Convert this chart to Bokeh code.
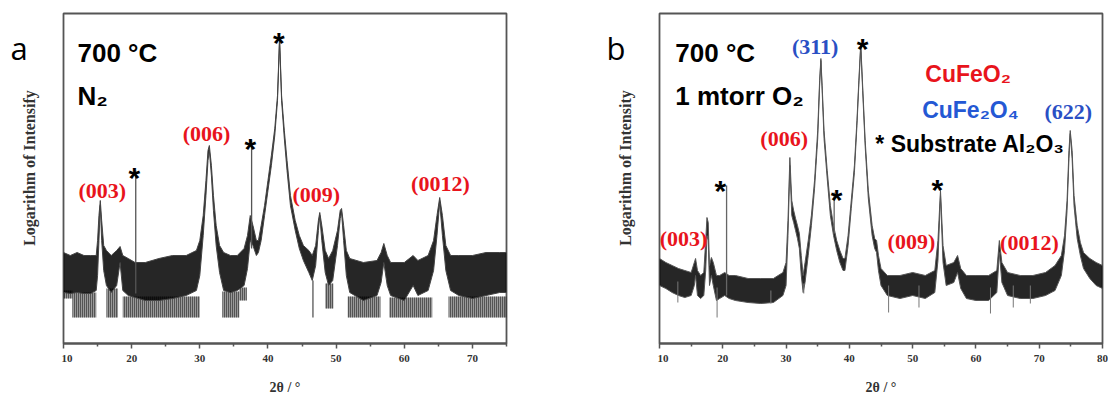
import math
from bokeh.plotting import figure
from bokeh.layouts import row
from bokeh.models import FixedTicker, ColumnDataSource, Range1d
from bokeh.core.properties import value
from bokeh.embed import file_html
from bokeh.resources import INLINE

# ---------------- panel a : 700 C, N2 ----------------
a_tt = [10.0, 11.0, 12.0, 13.0, 14.0, 14.8, 15.0, 15.2, 15.4, 15.6, 15.9, 16.3, 17.0, 17.8, 18.3, 18.7,
        19.5, 20.5, 22.0, 24.0, 26.0, 28.0, 29.5, 30.0, 30.5, 30.9, 31.2, 31.4, 31.7, 32.0, 32.4, 32.9,
        33.5, 34.5, 35.5, 36.5, 37.0, 37.4, 37.8, 38.3, 38.6, 39.0, 39.5, 40.0, 40.5, 41.0, 41.4, 41.7,
        42.0, 42.4, 42.8, 43.3, 44.0, 44.6, 45.2, 46.0, 46.5, 47.0, 47.4, 47.6, 47.9, 48.4, 48.9, 49.5,
        50.2, 50.6, 50.8, 51.1, 51.5, 52.0, 54.0, 56.0, 56.6, 57.0, 57.5, 58.0, 60.0, 61.3, 62.0, 63.5,
        64.3, 64.8, 65.2, 65.6, 66.1, 66.8, 68.0, 70.0, 72.0, 74.0, 75.0]
a_top = [91, 88, 91, 88, 88, 88, 103, 128, 143, 123, 98, 93, 88, 93, 97, 88,
         85, 81, 81, 85, 88, 88, 93, 103, 128, 163, 193, 198, 178, 148, 118, 98,
         91, 88, 88, 95, 108, 128, 118, 103, 103, 118, 138, 163, 188, 215, 248, 306,
         248, 213, 183, 148, 123, 108, 98, 93, 88, 98, 123, 131, 118, 93, 85, 93,
         113, 133, 135, 118, 93, 85, 81, 83, 91, 100, 88, 81, 81, 88, 83, 88,
         103, 128, 146, 128, 98, 88, 88, 88, 91, 91, 91]
a_bot = [51, 50, 51, 50, 50, 53, 68, 103, 138, 103, 73, 58, 51, 58, 81, 53,
         48, 46, 43, 43, 45, 48, 53, 68, 108, 148, 183, 193, 168, 133, 98, 71,
         53, 51, 53, 58, 75, 103, 98, 88, 91, 103, 128, 153, 178, 208, 243, 303,
         243, 205, 173, 138, 113, 95, 83, 71, 63, 78, 113, 128, 103, 71, 58, 63,
         98, 125, 131, 103, 68, 51, 43, 48, 61, 81, 58, 48, 43, 58, 48, 53,
         73, 108, 141, 108, 73, 53, 48, 45, 48, 51, 51]
# dropout comb of the noisy baseline: start, end, floor, band bottom
a_comb_x0 = [10.0, 11.3, 16.3, 18.7, 33.3, 35.8, 48.4, 51.7, 57.8, 66.5]
a_comb_x1 = [11.3, 14.8, 18.0, 30.0, 35.8, 36.9, 49.6, 56.5, 64.1, 75.0]
a_comb_lo = [45, 26, 26, 26, 26, 43, 35, 26, 26, 26]
a_comb_hi = [53, 51, 55, 47, 52, 56, 60, 47, 46, 47]
# sharp substrate lines and single dropouts
a_line_tt = [20.6, 37.6, 46.6]
a_line_lo = [50, 95, 26]
a_line_hi = [173, 203, 63]
# annotations
a_hkl = ["(003)", "(006)", "(009)", "(0012)"]
a_hkl_tt = [15.7, 31.0, 47.1, 65.3]
a_hkl_v = [153, 210, 149, 160]
a_star_tt = [20.4, 37.4, 41.6]
a_star_v = [166, 195, 301]

# ---------------- panel b : 700 C, 1 mtorr O2 ----------------
b_tt = [10.0, 11.0, 12.0, 13.0, 14.0, 15.0, 15.5, 15.7, 16.0, 16.5, 17.0, 17.3, 17.5, 17.7, 17.9, 18.2,
        18.5, 19.0, 19.5, 20.3, 21.0, 22.0, 24.0, 26.0, 28.0, 29.5, 30.0, 30.3, 30.6, 30.9, 31.2, 31.5,
        31.8, 32.1, 32.4, 32.7, 33.0, 33.5, 34.0, 34.5, 35.0, 35.3, 35.5, 35.7, 36.0, 36.5, 37.0, 37.5,
        38.0, 38.5, 39.0, 39.3, 39.8, 40.3, 40.8, 41.2, 41.5, 41.8, 42.1, 42.5, 43.0, 43.6, 44.0, 44.3,
        44.6, 45.0, 46.0, 48.0, 50.0, 52.0, 53.5, 54.0, 54.4, 54.8, 55.3, 56.5, 57.1, 57.6, 58.5, 60.0,
        62.0, 63.3, 63.7, 64.1, 65.0, 67.0, 69.0, 71.0, 72.5, 73.5, 74.0, 74.4, 74.7, 74.9, 75.2, 75.5,
        76.0, 76.5, 77.0, 78.0, 79.0, 80.0]
b_top = [85, 81, 78, 75, 73, 71, 81, 85, 73, 68, 71, 103, 126, 121, 78, 86,
         81, 68, 68, 71, 68, 68, 65, 65, 65, 71, 81, 123, 186, 143, 133, 125,
         118, 110, 88, 68, 81, 103, 128, 163, 213, 263, 285, 258, 213, 173, 138, 118,
         103, 93, 85, 85, 108, 143, 178, 223, 263, 300, 258, 203, 153, 118, 105, 103,
         88, 75, 68, 68, 71, 68, 73, 103, 153, 98, 78, 81, 88, 75, 68, 68,
         68, 73, 103, 81, 71, 68, 68, 71, 78, 88, 108, 143, 193, 213, 193, 148,
         118, 101, 91, 85, 81, 78]
b_bot = [58, 55, 51, 48, 46, 48, 58, 68, 48, 45, 48, 73, 108, 103, 58, 68,
         58, 43, 45, 48, 45, 43, 41, 40, 41, 48, 58, 108, 178, 128, 121, 113,
         105, 95, 68, 51, 61, 88, 118, 155, 205, 258, 283, 253, 205, 165, 128, 108,
         93, 81, 73, 73, 98, 135, 171, 218, 259, 297, 253, 197, 145, 108, 95, 91,
         73, 58, 48, 45, 48, 45, 51, 83, 148, 81, 58, 61, 71, 55, 45, 43,
         43, 51, 91, 61, 48, 45, 45, 48, 53, 68, 93, 133, 185, 210, 185, 138,
         105, 88, 75, 65, 58, 55]
b_line_tt = [20.6, 37.6]
b_line_lo = [48, 110]
b_line_hi = [158, 151]
b_drop_tt = [12.9, 19.1, 27.6, 32.8, 46.2, 51.0, 62.3, 65.9, 68.6]
b_drop_lo = [41, 26, 40, 50, 31, 36, 30, 36, 40]
b_drop_hi = [62, 56, 53, 60, 58, 58, 56, 58, 58]
b_hkl = ["(003)", "(006)", "(311)", "(009)", "(0012)", "(622)"]
b_hkl_tt = [13.8, 29.7, 34.6, 49.8, 68.45, 74.6]
b_hkl_v = [105, 205, 297, 102, 101, 232]
b_hkl_color = ["#e8141c", "#e8141c", "#2a4fc4", "#e8141c", "#e8141c", "#2a4fc4"]
b_star_tt = [19.6, 38.0, 42.1, 53.9]
b_star_v = [153, 144, 295, 154]

RED = "#e8141c"
BLUE = "#2458d4"
AXC = "#555555"
H = 396


def side_fig(letter, ylabel):
    # narrow strip left of each panel: panel letter and the rotated y-axis title
    s = figure(width=61, height=H, x_range=Range1d(0, 61), y_range=Range1d(0, H),
               output_backend="svg", toolbar_location=None, min_border=0)
    s.axis.visible = False
    s.grid.visible = False
    s.outline_line_color = None
    s.text(x=[10], y=[H - 42], text=[letter], text_font=value("Open Sans"), text_font_size="31px",
           text_color="black", text_align="left", text_baseline="alphabetic")
    s.text(x=[29], y=[H - 186], text=[ylabel], angle=math.pi / 2, text_font=value("Liberation Serif"),
           text_font_style="bold", text_font_size="16px", text_color="#333333",
           text_align="center", text_baseline="middle")
    return s


def make_fig(frame_w, br, x0, x1, major, minor):
    p = figure(frame_width=frame_w, frame_height=330, x_range=Range1d(x0, x1),
               y_range=Range1d(0, 330), output_backend="svg", toolbar_location=None,
               min_border_left=2, min_border_right=br, min_border_top=13, min_border_bottom=53)
    p.grid.visible = False
    p.background_fill_color = "white"
    p.border_fill_color = "white"
    p.outline_line_color = AXC
    p.outline_line_width = 1.8
    p.yaxis.visible = False
    xa = p.xaxis[0]
    xa.ticker = FixedTicker(ticks=major, minor_ticks=minor)
    xa.axis_line_color = AXC
    xa.axis_line_width = 2
    xa.major_tick_line_color = AXC
    xa.minor_tick_line_color = AXC
    xa.major_tick_line_width = 1.5
    xa.minor_tick_line_width = 1.5
    xa.major_tick_in = 0
    xa.major_tick_out = 5
    xa.minor_tick_in = 0
    xa.minor_tick_out = 3
    xa.major_label_standoff = 6
    xa.major_label_text_font = "Liberation Serif"
    xa.major_label_text_font_style = "bold"
    xa.major_label_text_font_size = "11px"
    xa.major_label_text_color = "#333333"
    xa.axis_label = "2θ / °"
    xa.axis_label_text_font = "Liberation Serif"
    xa.axis_label_text_font_style = "bold"
    xa.axis_label_text_font_size = "14px"
    xa.axis_label_text_color = "#333333"
    xa.axis_label_standoff = 15
    return p


def big_text(p, x, y, t, color="black", size="26px", align="left"):
    p.text(x=[x], y=[y], text=[t], text_font=value("Liberation Sans"), text_font_style="bold",
           text_font_size=size, text_color=color, text_align=align, text_baseline="alphabetic")


# ---- figure a
sa = side_fig("a", "Logarithm of Intensify")
pa = make_fig(443, 90, 10, 75, [10, 20, 30, 40, 50, 60, 70], [15, 25, 35, 45, 55, 65, 75])
pa.quad(left=a_comb_x0, right=a_comb_x1, bottom=a_comb_lo, top=a_comb_hi, fill_color="black",
        fill_alpha=0.4, line_alpha=0, hatch_pattern="|", hatch_scale=2, hatch_weight=1,
        hatch_color="black", hatch_alpha=0.9)
pa.varea(x=a_tt, y1=a_bot, y2=a_top, fill_color="black", fill_alpha=0.85)
pa.line(a_tt, a_top, line_color="#444444", line_width=1)
pa.line(a_tt, a_bot, line_color="#444444", line_width=1)
pa.segment(x0=a_line_tt, y0=a_line_lo, x1=a_line_tt, y1=a_line_hi, line_color="#555555", line_width=1.3)
pa.text(x=a_hkl_tt, y=a_hkl_v, text=a_hkl, text_font=value("Liberation Serif"), text_font_style="bold",
        text_font_size="22px", text_color=RED, text_align="center", text_baseline="middle")
pa.text(x=a_star_tt, y=a_star_v, text=["*"] * len(a_star_tt), text_font=value("Liberation Sans"),
        text_font_style="bold", text_font_size="30px", text_color="black", text_align="center",
        text_baseline="alphabetic")
big_text(pa, 12.05, 291, "700 °C")
big_text(pa, 12.05, 248, "N₂")

# ---- figure b
sb = side_fig("b", "Logarithm of Intensity")
pb = make_fig(443, 6, 10, 80, [10, 20, 30, 40, 50, 60, 70, 80], [15, 25, 35, 45, 55, 65, 75])
pb.varea(x=b_tt, y1=b_bot, y2=b_top, fill_color="black", fill_alpha=0.85)
pb.line(b_tt, b_top, line_color="#555555", line_width=1)
pb.line(b_tt, b_bot, line_color="#555555", line_width=1)
pb.segment(x0=b_line_tt, y0=b_line_lo, x1=b_line_tt, y1=b_line_hi, line_color="#666666", line_width=1.3)
pb.segment(x0=b_drop_tt, y0=b_drop_lo, x1=b_drop_tt, y1=b_drop_hi, line_color="#777777", line_width=1)
src = ColumnDataSource(dict(x=b_hkl_tt, y=b_hkl_v, t=b_hkl, c=b_hkl_color))
pb.text(x="x", y="y", text="t", text_color="c", source=src, text_font=value("Liberation Serif"),
        text_font_style="bold", text_font_size="22px", text_align="center", text_baseline="middle")
pb.text(x=b_star_tt, y=b_star_v, text=["*"] * len(b_star_tt), text_font=value("Liberation Sans"),
        text_font_style="bold", text_font_size="30px", text_color="black", text_align="center",
        text_baseline="alphabetic")
big_text(pb, 12.5, 291, "700 °C")
big_text(pb, 12.5, 248, "1 mtorr O₂")
big_text(pb, 52.0, 270, "CuFeO₂", color=RED, size="23px")
big_text(pb, 51.5, 234, "CuFe₂O₄", color=BLUE, size="23px")
big_text(pb, 44.1, 200, "* Substrate Al₂O₃", color="black", size="23px")

layout = row(sa, pa, sb, pb)
open("out.html", "w").write(file_html(layout, INLINE))
